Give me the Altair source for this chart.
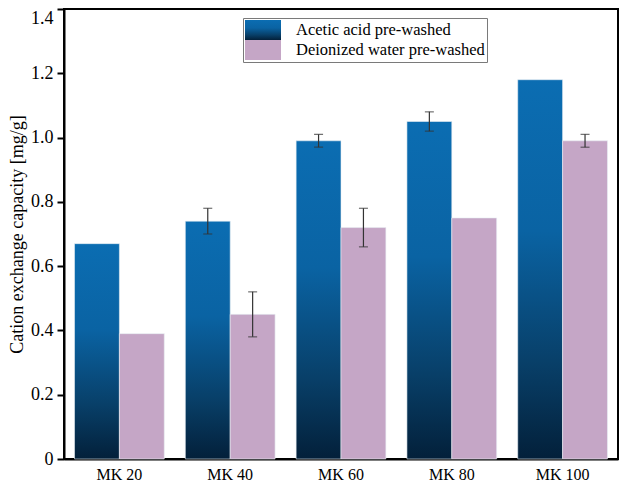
import altair as alt
import pandas as pd

categories = ["MK 20", "MK 40", "MK 60", "MK 80", "MK 100"]
series_names = ["Acetic acid pre-washed", "Deionized water pre-washed"]
acetic = [0.67, 0.74, 0.99, 1.05, 1.18]
acetic_err = [None, 0.04, 0.02, 0.03, None]
deion = [0.39, 0.45, 0.72, 0.75, 0.99]
deion_err = [None, 0.07, 0.06, None, 0.02]
y_ticks = [0.0, 0.1, 0.2, 0.3, 0.4, 0.5, 0.6, 0.7, 0.8, 0.9, 1.0, 1.1, 1.2, 1.3, 1.4]

rows = []
for name, vals, errs in [(series_names[0], acetic, acetic_err), (series_names[1], deion, deion_err)]:
    for c, v, e in zip(categories, vals, errs):
        rows.append({
            "cat": c, "series": name, "value": v,
            "lo": (v - e) if e is not None else None,
            "hi": (v + e) if e is not None else None,
        })
df = pd.DataFrame(rows)
err_df = df.dropna(subset=["lo"])

FONT = "Liberation Serif"
gradient_expr = (
    "{gradient: 'linear', x1: 0, y1: 0, x2: 0, y2: 1, stops: ["
    "{offset: 0, color: '#0b6db2'}, {offset: 0.4, color: '#0a63a3'}, "
    "{offset: 0.75, color: '#083f68'}, {offset: 1, color: '#03203a'}]}"
)

x_enc = alt.X(
    "cat:N", sort=categories,
    scale=alt.Scale(paddingInner=0.19, paddingOuter=0.095),
    axis=alt.Axis(title=None, labelAngle=0, ticks=False, domainWidth=2, domainColor="black",
                  labelFont=FONT, labelFontSize=16, labelColor="black", labelPadding=7),
)
xoff = alt.XOffset("series:N", sort=series_names)

y_axis = alt.Axis(
    title="Cation exchange capacity [mg/g]", titleFont=FONT, titleFontSize=18,
    titleFontWeight="normal", titleColor="black", titlePadding=4,
    values=y_ticks,
    labelExpr="round(datum.value*10) % 2 == 0 ? (datum.value == 0 ? '0' : format(datum.value, '.1f')) : ''",
    labelFont=FONT, labelFontSize=18, labelColor="black", labelPadding=4,
    labelBaseline={"condition": {"test": "datum.value > 1.35", "value": "top"}, "value": "middle"},
    tickSize={"condition": {"test": "round(datum.value*10) % 2 == 0", "value": 7}, "value": 4},
    tickWidth=2, tickColor="black", domainWidth=2, domainColor="black", grid=False,
)

bars = alt.Chart(df).mark_bar(stroke="#e8eef4", strokeWidth=0.6).encode(
    x=x_enc,
    xOffset=xoff,
    y=alt.Y("value:Q", scale=alt.Scale(domain=[0, 1.4], nice=False), axis=y_axis),
    color=alt.Color(
        "series:N",
        scale=alt.Scale(domain=series_names, range=[{"expr": gradient_expr}, "#c5a6c6"]),
        legend=alt.Legend(
            title=None, orient="none", legendX=179, legendY=9,
            fillColor="white", strokeColor="#7a7a7a", padding=2,
            symbolType="M-1.8,-1H1.8V1H-1.8Z", symbolSize=400, symbolOffset=8,
            symbolStrokeWidth=0, rowPadding=0,
            labelFont=FONT, labelFontSize=16.5, labelColor="black", labelOffset=23,
            labelLimit=400,
        ),
    ),
)

rules = alt.Chart(err_df).mark_rule(color="#333333", strokeWidth=1.2).encode(
    x=alt.X("cat:N", sort=categories), xOffset=xoff,
    y=alt.Y("lo:Q"), y2="hi:Q",
)
caps_hi = alt.Chart(err_df).mark_tick(color="#333333", thickness=1.2, size=9).encode(
    x=alt.X("cat:N", sort=categories), xOffset=xoff, y=alt.Y("hi:Q"),
)
caps_lo = alt.Chart(err_df).mark_tick(color="#333333", thickness=1.2, size=9).encode(
    x=alt.X("cat:N", sort=categories), xOffset=xoff, y=alt.Y("lo:Q"),
)

chart = alt.layer(bars, rules, caps_hi, caps_lo).properties(
    width=554, height=450,
    padding={"left": 0, "top": 0, "right": 1, "bottom": 0},
).configure_view(stroke="black", strokeWidth=2)

chart.save("out.html", embed_options={"renderer": "svg", "actions": False})
